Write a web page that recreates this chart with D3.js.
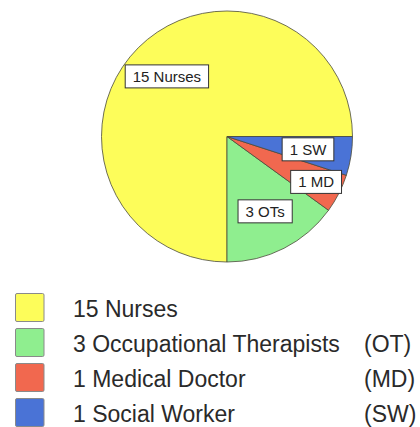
<!DOCTYPE html>
<html>
<head>
<meta charset="utf-8">
<script src="https://cdn.jsdelivr.net/npm/d3@7"></script>
<style>
  html, body { margin: 0; padding: 0; background: #fff; }
  svg { display: block; font-family: "Liberation Sans", Arial, sans-serif; }
</style>
</head>
<body>
<svg id="chart" width="420" height="427"></svg>
<script>
// ---- data ----
const categories = ["Nurses", "Occupational Therapists", "Medical Doctor", "Social Worker"];
const counts = [15, 3, 1, 1];
const sliceLabels = ["15 Nurses", "3 OTs", "1 MD", "1 SW"];
const legendLabels = ["15 Nurses", "3 Occupational Therapists", "1 Medical Doctor", "1 Social Worker"];
const legendAbbrev = ["", "(OT)", "(MD)", "(SW)"];
const colors = ["#FDFD5A", "#8FEE8F", "#F1684F", "#4A73D6"];

// ---- layout ----
const svg = d3.select("#chart");
const cx = 227, cy = 136.5, R = 125.5;
const labelRadii = [85, 84, 100, 82];

const data = categories.map((c, i) => ({ name: c, value: counts[i], i }));

// start at 3 o'clock, go counter-clockwise
const pie = d3.pie().value(d => d.value).sort(null)
  .startAngle(Math.PI / 2).endAngle(Math.PI / 2 - 2 * Math.PI);
const arcs = pie(data);
const arc = d3.arc().innerRadius(0).outerRadius(R);

const g = svg.append("g").attr("transform", `translate(${cx},${cy})`);
g.selectAll("path.slice").data(arcs).join("path")
  .attr("class", "slice")
  .attr("d", arc)
  .attr("fill", d => colors[d.data.i])
  .attr("stroke", "#4a4a3a")
  .attr("stroke-width", 0.8)
  .attr("stroke-linejoin", "round");

// slice labels in boxes
const lbl = g.selectAll("g.lbl").data(arcs).join("g")
  .attr("class", "lbl")
  .attr("transform", d => {
    const a = d3.arc().innerRadius(labelRadii[d.data.i]).outerRadius(labelRadii[d.data.i]);
    const [x, y] = a.centroid(d);
    return `translate(${x},${y})`;
  });
lbl.append("rect").attr("fill", "#fff").attr("stroke", "#333").attr("stroke-width", 1);
lbl.append("text")
  .attr("text-anchor", "middle")
  .attr("dy", "0.36em")
  .attr("font-size", 15)
  .attr("fill", "#222")
  .text(d => sliceLabels[d.data.i]);
lbl.each(function () {
  const t = d3.select(this).select("text").node();
  const w = t.getComputedTextLength() + 15, h = 23;
  d3.select(this).select("rect")
    .attr("x", -w / 2).attr("y", -h / 2).attr("width", w).attr("height", h);
});

// ---- legend ----
const leg = svg.append("g");
const rowY = d3.scaleBand().domain(d3.range(categories.length)).range([290, 430]).paddingInner(0);
const rows = leg.selectAll("g.row").data(data).join("g")
  .attr("class", "row")
  .attr("transform", d => `translate(0,${rowY(d.i)})`);
rows.append("rect")
  .attr("x", 15.5).attr("y", 3.5).attr("width", 28.5).attr("height", 28)
  .attr("rx", 1.5)
  .attr("fill", d => colors[d.i])
  .attr("stroke", "#8a8a8a").attr("stroke-width", 1);
rows.append("text")
  .attr("x", 73).attr("y", 26.5)
  .attr("font-size", 23).attr("fill", "#2a2a2a")
  .text(d => legendLabels[d.i]);
rows.append("text")
  .attr("x", 364).attr("y", 26.5)
  .attr("font-size", 23).attr("fill", "#2a2a2a")
  .text(d => legendAbbrev[d.i]);
</script>
</body>
</html>
